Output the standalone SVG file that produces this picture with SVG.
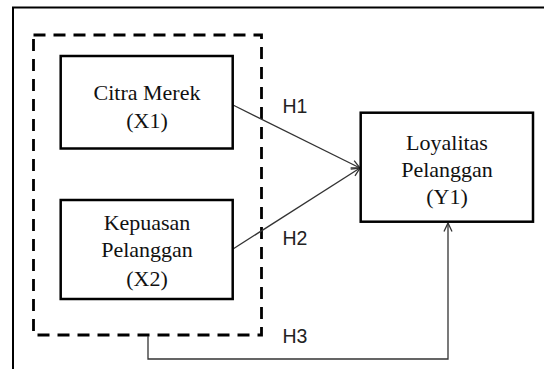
<svg xmlns="http://www.w3.org/2000/svg" width="544" height="369" viewBox="0 0 544 369">
<defs>
<style>
.box{fill:#fff;stroke:#000;stroke-width:2.5}
.lbl{font-family:"Liberation Serif","Times New Roman",serif;font-size:22px;fill:#111;text-anchor:middle}
.h{font-family:"Liberation Sans",Arial,sans-serif;font-size:19.5px;fill:#222}
.con{fill:none;stroke:#333;stroke-width:1.3}
</style>
<marker id="arr" viewBox="0 0 10 10" refX="9.5" refY="5" markerWidth="10" markerHeight="10" markerUnits="userSpaceOnUse" orient="auto">
<path d="M1,1 L9.5,5 L1,9" fill="none" stroke="#333" stroke-width="1.3"/>
</marker>
</defs>
<rect width="544" height="369" fill="#fff"/>
<path d="M13,369 V7.5 H544" fill="none" stroke="#000" stroke-width="2"/>
<g id="group-dashed">
<rect x="33.5" y="35" width="228" height="300" fill="none" stroke="#000" stroke-width="2.8" stroke-dasharray="12 8"/>
</g>
<g id="connectors">
<line class="con" x1="233" y1="105" x2="360" y2="168" marker-end="url(#arr)"/>
<line class="con" x1="233" y1="249" x2="360" y2="168" marker-end="url(#arr)"/>
<path class="con" d="M148,336 V359 H448 V223" marker-end="url(#arr)"/>
<text class="h" x="282.5" y="113">H1</text>
<text class="h" x="282.5" y="245">H2</text>
<text class="h" x="282.5" y="343">H3</text>
</g>
<g id="node-x1">
<rect class="box" x="60.7" y="56" width="172" height="92.5"/>
<text class="lbl" x="147" y="100">Citra Merek</text>
<text class="lbl" x="147" y="128">(X1)</text>
</g>
<g id="node-x2">
<rect class="box" x="60.7" y="200" width="172" height="99"/>
<text class="lbl" x="147" y="230">Kepuasan</text>
<text class="lbl" x="147" y="257">Pelanggan</text>
<text class="lbl" x="147" y="286">(X2)</text>
</g>
<g id="node-y1">
<rect class="box" x="360.7" y="112.7" width="172.3" height="109"/>
<text class="lbl" x="447" y="150">Loyalitas</text>
<text class="lbl" x="447" y="177">Pelanggan</text>
<text class="lbl" x="447" y="204">(Y1)</text>
</g>
</svg>
